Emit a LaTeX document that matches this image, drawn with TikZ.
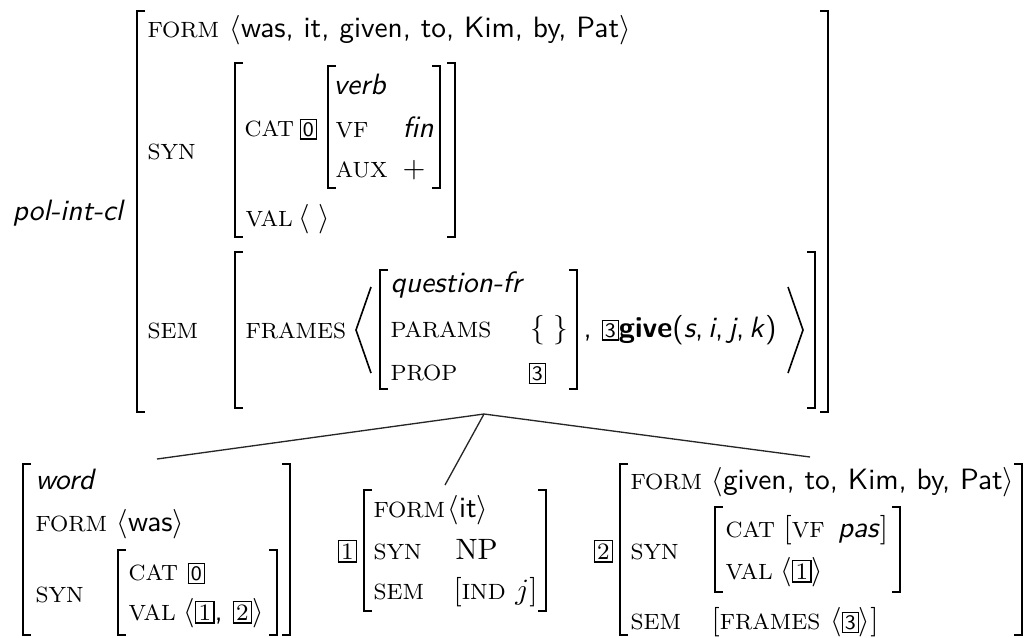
\documentclass[tikz,border=0pt]{standalone}
\newcommand{\AVML}[3]{\draw[brk] (#1+8,#2) -- (#1,#2) -- (#1,#3) -- (#1+8,#3);}
\newcommand{\AVMR}[3]{\draw[brk] (#1-8,#2) -- (#1,#2) -- (#1,#3) -- (#1-8,#3);}
\newcommand{\tg}[1]{{\setlength{\fboxsep}{0.7pt}\fbox{\scriptsize\sffamily #1}}}
\newcommand{\tgr}[1]{{\setlength{\fboxsep}{0.8pt}\fbox{\footnotesize\rmfamily #1}}}
\newcommand{\attrfont}{\rmfamily\fontsize{7.5}{9}\selectfont}
\newcommand{\at}[1]{{\attrfont #1}}
\begin{document}
\begin{tikzpicture}[x=0.34pt,y=-0.34pt,
  brk/.style={line width=0.65pt},
  ang/.style={line width=0.55pt, line join=miter},
  branch/.style={line width=0.45pt, black!85},
  attr/.style={anchor=base west, inner sep=0pt, font=\attrfont},
  val/.style={anchor=base west, inner sep=0pt, font=\sffamily},
  typ/.style={anchor=base west, inner sep=0pt, font=\sffamily\itshape}]
\useasboundingbox (0,0) rectangle (1027,637);

% ---------- mother ----------
\node[typ] (polintcl) at (12,220) {pol-int-cl};
\AVML{137}{11}{412} \AVMR{828}{11}{412}
\node[attr] (tform) at (147,37) {FORM};
\node[val] (tformv) at (229,37) {$\langle$was, it, given, to, Kim, by, Pat$\rangle$};
\node[attr] (tsyn) at (147,159) {SYN};
\AVML{235}{63}{237} \AVMR{455}{63}{237}
\node[attr] (tcat) at (244,136) {CAT};
\node[val] (ttag0) at (299,136) {\tg{0}};
\AVML{328}{66}{188} \AVMR{440}{66}{188}
\node[typ] (tverb) at (333,94) {verb};
\node[attr] (tvf) at (335,137) {VF};
\node[typ] (tfin) at (402,137) {fin};
\node[attr] (taux) at (335,177) {AUX};
\node[val] (tplus) at (402,177) {$+$};
\node[attr] (tval) at (245,226) {VAL};
\node[val] (tvalv) at (298,226) {$\langle\;\rangle$};
\node[attr] (tsem) at (147,338) {SEM};
\AVML{235}{252}{408} \AVMR{815}{252}{408}
\node[attr] (tframes) at (245,338) {FRAMES};
\draw[ang] (371,287) -- (356,330) -- (371,373);
\AVML{380}{270}{389} \AVMR{577}{270}{389}
\node[typ] (tqfr) at (390,292) {question-fr};
\node[attr] (tparams) at (390,337) {PARAMS};
\node[val] (tset) at (530,337) {$\{\;\}$};
\node[attr] (tprop) at (390,380) {PROP};
\node[val] (ttag3) at (528,380) {\tg{3}};
\node[val] (tgive) at (583,337) {, \tg{3}\textbf{give}(\textit{s},\,\textit{i},\,\textit{j},\,\textit{k})};
\draw[ang] (788,287) -- (803,330) -- (788,373);

% ---------- branches ----------
\coordinate (apex) at (484,414);
\coordinate (d1) at (157,459);
\coordinate (d2) at (445,485);
\coordinate (d3) at (810,457);
\draw[branch] (apex) -- (d1);
\draw[branch] (apex) -- (d2);
\draw[branch] (apex) -- (d3);

% ---------- daughter 1 ----------
\AVML{23}{464}{635} \AVMR{290}{464}{635}
\node[typ] (wword) at (35,489) {word};
\node[attr] (wform) at (35,531) {FORM};
\node[val] (wformv) at (116,531) {$\langle$was$\rangle$};
\node[attr] (wsyn) at (35,602) {SYN};
\AVML{118}{550}{635} \AVMR{277}{550}{635}
\node[attr] (wcat) at (128,580) {CAT};
\node[val] (wtag0) at (187,580) {\tg{0}};
\node[attr] (wval) at (128,620) {VAL};
\node[val] (wvalv) at (183,620) {$\langle$\tgr{1}, \tgr{2}$\rangle$};

% ---------- daughter 2 ----------
\node[val] (itag) at (337,559) {\tgr{1}};
\AVML{364}{490}{611} \AVMR{546}{490}{611}
\node[attr] (iform) at (373,517) {FORM};
\node[val] (iformv) at (447,517) {$\langle$it$\rangle$};
\node[attr] (isyn) at (373,559) {SYN};
\node[val] (inp) at (455,559) {\rmfamily NP};
\node[attr] (isem) at (373,599) {SEM};
\node[val] (isemv) at (453,599) {\rmfamily[\at{IND} $j$]};

% ---------- daughter 3 ----------
\node[val] (gtag) at (593,559) {\tgr{2}};
\AVML{620}{464}{635} \AVMR{1022}{464}{635}
\node[attr] (gform) at (630,489) {FORM};
\node[val] (gformv) at (711,489) {$\langle$given, to, Kim, by, Pat$\rangle$};
\node[attr] (gsyn) at (630,559) {SYN};
\AVML{715}{507}{592} \AVMR{900}{507}{592}
\node[attr] (gcat) at (725,537) {CAT};
\node[val] (gcatv) at (783,537) {$[$\at{VF}\hspace{4.5pt}\textit{pas}$]$};
\node[attr] (gval) at (725,579) {VAL};
\node[val] (gvalv) at (780,579) {$\langle$\tgr{1}$\rangle$};
\node[attr] (gsem) at (630,629) {SEM};
\node[val] (gsemv) at (711,629) {\rmfamily[\at{FRAMES} $\langle$\tg{3}$\rangle$]};
\end{tikzpicture}
\end{document}
